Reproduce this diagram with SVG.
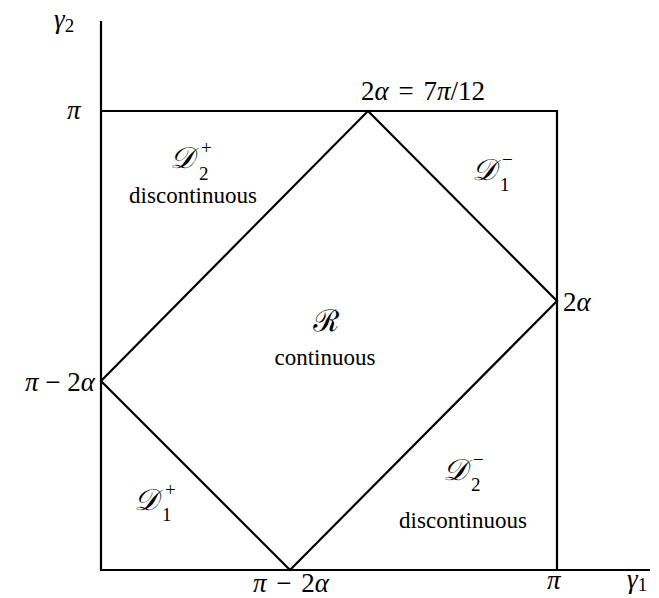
<svg xmlns="http://www.w3.org/2000/svg" width="659" height="598" viewBox="0 0 659 598">
<style>
text{font-family:"Liberation Serif","DejaVu Serif",serif;font-size:23px;fill:#000}
.mt{font-size:27px}
.m{font-style:italic}
.s{font-size:19px}
.sc{font-family:"DejaVu Serif","Noto Sans",serif;font-style:italic;font-size:30px}
line,polyline,polygon{stroke:#000;stroke-width:2.2;fill:none}
</style>
<g id="axes">
<polyline points="101,21 101,570 650,570"/>
<text x="54" y="28" class="mt m">γ<tspan class="s" dy="4" font-style="normal">2</tspan></text>
<text x="627" y="588" class="mt m">γ<tspan class="s" dy="3" font-style="normal">1</tspan></text>
<text x="67" y="119" class="mt m">π</text>
<text x="547" y="589" class="mt m">π</text>
</g>
<g id="connectors">
<polyline points="101,111 557,111 557,570"/>
<polygon points="368,111 557,301 290,570 101,381"/>
</g>
<g id="labels">
<text x="423" y="100" text-anchor="middle" class="mt" xml:space="preserve"><tspan>2</tspan><tspan class="m">α</tspan><tspan dx="3"> = </tspan><tspan dx="3">7</tspan><tspan class="m">π</tspan>/12</text>
<text x="563" y="311" class="mt">2<tspan class="m">α</tspan></text>
<text x="95" y="391" text-anchor="end" class="mt"><tspan class="m">π</tspan> − 2<tspan class="m">α</tspan></text>
<text x="291" y="592" text-anchor="middle" class="mt" xml:space="preserve"><tspan class="m">π</tspan><tspan dx="3"> − </tspan><tspan dx="3">2</tspan><tspan class="m">α</tspan></text>
</g>
<g id="D2plus">
<text x="170" y="168" class="sc">𝒟</text><text x="201" y="154" class="s">+</text><text x="199" y="180" class="s">2</text>
<text x="193" y="203" text-anchor="middle">discontinuous</text>
</g>
<g id="D1minus">
<text x="472" y="180" class="sc">𝒟</text><text x="502" y="166" class="s">−</text><text x="500" y="191" class="s">1</text>
</g>
<g id="R">
<text x="326" y="331" text-anchor="middle" class="sc">ℛ</text>
<text x="325" y="365" text-anchor="middle">continuous</text>
</g>
<g id="D1plus">
<text x="134" y="510" class="sc">𝒟</text><text x="165" y="496" class="s">+</text><text x="162" y="521" class="s">1</text>
</g>
<g id="D2minus">
<text x="443" y="480" class="sc">𝒟</text><text x="473" y="466" class="s">−</text><text x="471" y="491" class="s">2</text>
<text x="463" y="528" text-anchor="middle">discontinuous</text>
</g>
</svg>
